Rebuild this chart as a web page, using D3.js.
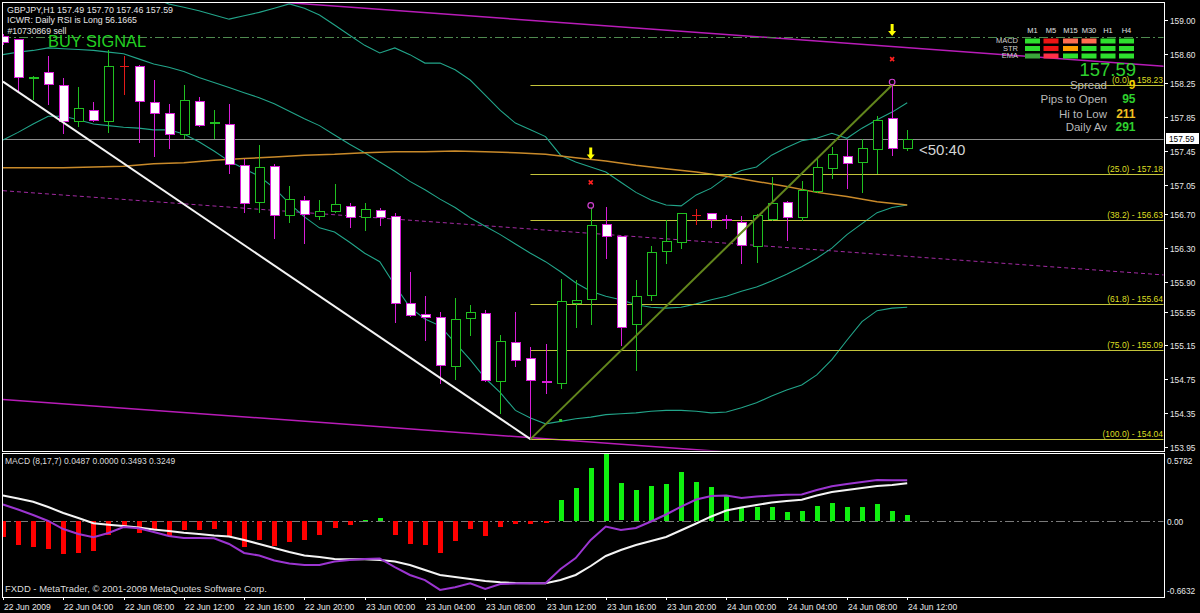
<!DOCTYPE html>
<html><head><meta charset="utf-8">
<script src="https://cdn.jsdelivr.net/npm/d3@7"></script>
<style>html,body{margin:0;padding:0;background:#000;overflow:hidden}text{font-family:"Liberation Sans",Arial,sans-serif}</style>
</head><body>
<svg id="c" width="1200" height="613"></svg>
<script>
// ---------------- DATA ----------------
const symbolTitle = "GBPJPY,H1  157.49 157.70 157.46 157.59";
const infoLine2 = "ICWR: Daily RSI is Long 56.1665";
const infoLine3 = "#10730869 sell";
const signalText = "BUY SIGNAL";
const macdTitle = "MACD (8,17,7) 0.0487 0.0000 0.3493 0.3249";
const copyright = "FXDD - MetaTrader, \u00a9 2001-2009 MetaQuotes Software Corp.";
const timerText = "<50:40";

const timeTickBars = [0,4,8,12,16,20,24,28,32,36,40,44,48,52,56,60];
const timeTickLabels = ["22 Jun 2009","22 Jun 04:00","22 Jun 08:00","22 Jun 12:00","22 Jun 16:00","22 Jun 20:00",
  "23 Jun 00:00","23 Jun 04:00","23 Jun 08:00","23 Jun 12:00","23 Jun 16:00","23 Jun 20:00",
  "24 Jun 00:00","24 Jun 04:00","24 Jun 08:00","24 Jun 12:00"];
const priceTicks = [159.00,158.60,158.25,157.85,157.45,157.05,156.70,156.30,155.90,155.55,155.15,154.75,154.35,153.95];
const macdTicks = [0.5782, 0.00, -0.6632];
const macdTickLabels = ["0.5782","0.00","-0.6632"];

const opens  = [158.81,158.77,158.32,158.39,158.23,157.80,157.94,157.81,158.45,158.46,
  158.03,157.90,157.65,158.04,157.78,157.77,157.28,156.85,157.27,156.69,
  156.87,156.68,156.74,156.80,156.67,156.75,156.68,155.65,155.52,155.48,
  154.90,155.47,155.53,154.73,155.19,155.00,154.73,154.70,155.65,155.70,
  156.58,156.44,155.40,155.74,156.27,156.37,156.69,156.71,156.64,156.61,
  156.32,156.65,156.85,156.67,156.98,157.25,157.39,157.32,157.47,157.84,157.49];
const highs  = [158.83,158.78,158.34,158.57,158.31,158.21,158.03,158.65,158.57,158.47,
  158.29,158.01,158.23,158.09,157.93,158.01,157.36,157.52,157.30,157.03,
  156.92,156.87,157.06,156.84,156.83,156.78,156.72,156.02,155.73,155.55,
  155.71,155.63,155.57,155.27,155.54,155.13,155.16,155.93,155.92,156.77,
  156.79,156.44,155.92,156.32,156.63,156.72,156.76,156.72,156.69,156.68,
  156.70,157.14,156.86,157.09,157.38,157.50,157.58,157.59,157.86,158.23,157.70];
const lows   = [158.72,158.15,158.07,158.01,157.66,157.75,157.81,157.68,158.13,157.56,
  157.39,157.48,157.60,157.75,157.60,157.19,156.73,156.73,156.42,156.61,
  156.36,156.65,156.73,156.55,156.52,156.57,155.43,155.50,155.21,154.70,
  154.75,155.27,154.73,154.35,154.90,154.04,154.58,154.64,155.37,155.40,
  156.18,155.15,154.86,155.69,156.13,156.30,156.59,156.55,156.54,156.12,
  156.14,156.63,156.40,156.63,156.97,157.13,157.01,156.97,157.19,157.40,157.46];
const closes = [158.74,158.33,158.33,158.24,157.81,157.96,157.82,158.46,158.45,158.04,
  157.90,157.65,158.05,157.76,157.79,157.30,156.84,157.26,156.69,156.88,
  156.70,156.74,156.82,156.67,156.76,156.67,155.65,155.51,155.49,154.92,
  155.46,155.54,154.74,155.20,154.98,154.74,154.72,155.67,155.69,156.57,
  156.44,155.37,155.73,156.26,156.38,156.71,156.69,156.65,156.63,156.34,
  156.69,156.84,156.67,156.99,157.26,157.41,157.31,157.48,157.82,157.49,157.59];

const bbUpper = [159.59,159.57,159.52,159.47,159.46,159.49,159.51,159.50,159.46,159.36,159.26,
  159.19,159.15,159.11,159.06,159.01,159.05,159.09,159.14,159.19,159.14,
  159.06,158.94,158.82,158.70,158.61,158.67,158.59,158.49,158.49,158.41,
  158.29,158.11,157.93,157.78,157.70,157.62,157.40,157.32,157.26,157.20,
  157.08,156.96,156.87,156.81,156.80,156.93,157.01,157.14,157.22,157.26,
  157.40,157.49,157.57,157.60,157.66,157.60,157.72,157.82,157.91,158.02];
const bbMiddle = [158.59,158.62,158.64,158.67,158.66,158.65,158.64,158.62,158.60,158.54,158.48,
  158.44,158.39,158.32,158.26,158.20,158.14,158.08,158.01,157.92,157.83,
  157.75,157.64,157.53,157.43,157.32,157.21,157.09,156.99,156.88,156.78,
  156.66,156.56,156.46,156.35,156.24,156.14,156.02,155.89,155.79,155.73,
  155.69,155.63,155.60,155.59,155.60,155.64,155.69,155.73,155.79,155.84,
  155.91,155.99,156.08,156.18,156.30,156.46,156.59,156.72,156.78,156.81];
const bbLower = [157.58,157.67,157.77,157.86,157.86,157.82,157.77,157.75,157.73,157.72,157.70,
  157.70,157.65,157.56,157.45,157.33,157.24,157.15,157.01,156.83,156.67,
  156.54,156.49,156.37,156.24,156.14,155.86,155.60,155.46,155.38,155.18,
  154.98,154.76,154.59,154.38,154.29,154.22,154.25,154.28,154.30,154.33,
  154.34,154.35,154.37,154.38,154.38,154.37,154.35,154.36,154.41,154.47,
  154.55,154.62,154.68,154.80,154.98,155.21,155.43,155.56,155.59,155.60];

const maBars   = [0,2,4,6,8,10,12,14,16,18,20,22,24,26,28,30,32,34,36,38,40,42,44,46,48,50,52,54,56,58,60];
const maValues = [157.25,157.25,157.25,157.26,157.27,157.30,157.31,157.34,157.36,157.38,157.40,157.41,157.43,157.44,157.44,157.45,
  157.44,157.43,157.41,157.37,157.33,157.28,157.24,157.20,157.15,157.09,157.03,156.96,156.91,156.85,156.81];

const channelBars = [0, 78];
const channelLow  = [154.51, 153.50];
const channelHigh = [159.45, 158.44];

const downTrendBars = [0, 35];
const downTrendPrices = [158.27, 154.04];
const upTrendBars = [35, 59];
const upTrendPrices = [154.04, 158.23];

const fibStartBar = 35;
const fibLevels = ["0.0","25.0","38.2","61.8","75.0","100.0"];
const fibPrices = [158.23,157.18,156.63,155.64,155.09,154.04];

const signalLevel = 158.80;
const bidPrice = 157.59;
const fractalBars = [39, 59];
const dotBar = 37, dotPrice = 154.26;

const macdHist = [-0.140,-0.212,-0.227,-0.240,-0.290,-0.275,-0.261,-0.119,-0.053,-0.105,
  -0.076,-0.134,-0.076,-0.076,-0.067,-0.134,-0.227,-0.168,-0.220,-0.183,
  -0.162,-0.125,-0.062,-0.038,0.004,0.025,-0.125,-0.197,-0.212,-0.275,
  -0.177,-0.070,-0.131,-0.053,-0.023,-0.023,-0.015,0.179,0.286,0.457,
  0.5782,0.324,0.266,0.300,0.318,0.422,0.338,0.294,0.222,0.121,
  0.115,0.115,0.072,0.086,0.127,0.155,0.121,0.121,0.144,0.086,0.0487];
const macdMain = [0.140,0.096,0.049,-0.003,-0.073,-0.116,-0.145,-0.108,-0.056,-0.067,
  -0.099,-0.134,-0.151,-0.151,-0.154,-0.203,-0.281,-0.303,-0.346,-0.372,
  -0.385,-0.385,-0.355,-0.342,-0.333,-0.329,-0.403,-0.472,-0.516,-0.602,
  -0.579,-0.544,-0.594,-0.550,-0.546,-0.544,-0.544,-0.420,-0.325,-0.168,
  -0.051,-0.082,-0.064,-0.008,0.053,0.122,0.183,0.214,0.218,0.196,
  0.209,0.218,0.224,0.227,0.266,0.299,0.318,0.335,0.352,0.350,0.3493];
const macdSignal = [0.218,0.192,0.164,0.118,0.066,0.023,-0.023,-0.036,-0.047,-0.060,
  -0.077,-0.090,-0.105,-0.116,-0.129,-0.138,-0.168,-0.203,-0.238,-0.273,
  -0.303,-0.316,-0.333,-0.336,-0.336,-0.342,-0.355,-0.385,-0.429,-0.472,
  -0.490,-0.507,-0.524,-0.536,-0.542,-0.544,-0.544,-0.516,-0.472,-0.394,
  -0.307,-0.255,-0.212,-0.177,-0.142,-0.084,-0.025,0.036,0.088,0.114,
  0.135,0.157,0.170,0.181,0.218,0.248,0.266,0.283,0.300,0.309,0.3249];

const tfLabels = ["M1","M5","M15","M30","H1","H4"];
const rowLabels = ["MACD","STR","EMA"];
const matrixStates = [
  ["up","down","weak","weak","up","up"],
  ["up","down","mid","up","up","up"],
  ["dim","down2","up","up","up","up"]];
const bigPrice = "157.59";
const infoLabels = ["Spread","Pips to Open","Hi to Low","Daily Av"];
const infoValues = ["9","95","211","291"];
const infoKinds  = ["yellow","green","orange","green"];

// ---------------- LAYOUT ----------------
const svg = d3.select("#c");
svg.append("rect").attr("width",1200).attr("height",613).attr("fill","#000");
const PL=2, PR=1164, PT=2, PB=451, MT=453, MB=597;

const x = d3.scaleLinear().domain([0,60]).range([3,907.2]);
const y = d3.scaleLinear().domain([153.95,159.00]).range([446.7,20]);
const ym = d3.scaleLinear().domain([-0.6632,0.5782]).range([MB,454]);

const defs = svg.append("defs");
defs.append("clipPath").attr("id","cm").append("rect").attr("x",PL+0.5).attr("y",PT+0.5).attr("width",PR-PL-1).attr("height",PB-PT-1);
defs.append("clipPath").attr("id","cd").append("rect").attr("x",PL+0.5).attr("y",MT+0.5).attr("width",PR-PL-1).attr("height",MB-MT-1);

const main = svg.append("g").attr("clip-path","url(#cm)");
const idx = d3.range(opens.length);
const sx = v => Math.round(v)+0.5;

// channel
const chLine = (vals) => main.append("line")
  .attr("x1",x(channelBars[0])).attr("y1",y(vals[0])).attr("x2",x(channelBars[1])).attr("y2",y(vals[1]));
chLine(channelLow).attr("stroke","#b81cb8").attr("stroke-width",1.5);
chLine(channelHigh).attr("stroke","#b81cb8").attr("stroke-width",1.5);
chLine([(channelLow[0]+channelHigh[0])/2,(channelLow[1]+channelHigh[1])/2]).attr("stroke","#a22aa2").attr("stroke-width",1).attr("stroke-dasharray","4,3");

// signal dash-dot line
main.append("line").attr("x1",PL).attr("x2",PR).attr("y1",sx(y(signalLevel))).attr("y2",sx(y(signalLevel)))
  .attr("stroke","#4f8a4f").attr("stroke-dasharray","9,3,2,3");

// bid line
main.append("line").attr("x1",PL).attr("x2",PR).attr("y1",sx(y(bidPrice))).attr("y2",sx(y(bidPrice)))
  .attr("stroke","#8c8c8c").attr("stroke-width",1);

// bollinger + MA
const lineGen = d3.line().x((d,i)=>x(i)).y(d=>y(d));
[bbUpper,bbMiddle,bbLower].forEach(arr=>{
  main.append("path").attr("d",lineGen(arr)).attr("fill","none").attr("stroke","#22a58a").attr("stroke-width",1.1);
});
main.append("path").attr("d",d3.line().x((d,i)=>x(maBars[i])).y(d=>y(d))(maValues))
  .attr("fill","none").attr("stroke","#c98a2a").attr("stroke-width",1.5);

// fib lines
fibPrices.forEach((p,i)=>{
  main.append("line").attr("x1",x(fibStartBar)).attr("x2",PR).attr("y1",sx(y(p))).attr("y2",sx(y(p)))
    .attr("stroke","#c4c43a").attr("stroke-width",1);
});

// candles
const cg = main.append("g").attr("shape-rendering","crispEdges");
idx.forEach(i=>{
  const o=opens[i], c=closes[i], h=highs[i], l=lows[i];
  const cx = sx(x(i));
  let col, fill;
  if (o===c) { col="#e41a1a"; }
  else if (c>o) { col="#20c020"; fill="#000"; }
  else { col="#d81ed8"; fill="#ffffff"; }
  cg.append("line").attr("x1",cx).attr("x2",cx).attr("y1",Math.round(y(h))).attr("y2",Math.round(y(l))+1).attr("stroke",col);
  if (o===c) {
    cg.append("line").attr("x1",cx-4.5).attr("x2",cx+4.5).attr("y1",sx(y(o))).attr("y2",sx(y(o))).attr("stroke",col);
  } else {
    const top=Math.round(y(Math.max(o,c))), bot=Math.round(y(Math.min(o,c)));
    cg.append("rect").attr("x",cx-4.5).attr("y",top+0.5).attr("width",9).attr("height",Math.max(1,bot-top))
      .attr("fill",fill).attr("stroke",col);
  }
});

// trendlines
main.append("line").attr("x1",x(downTrendBars[0])).attr("y1",y(downTrendPrices[0])).attr("x2",x(downTrendBars[1])).attr("y2",y(downTrendPrices[1]))
  .attr("stroke","#f4f4f4").attr("stroke-width",2);
main.append("line").attr("x1",x(upTrendBars[0])).attr("y1",y(upTrendPrices[0])).attr("x2",x(upTrendBars[1])).attr("y2",y(upTrendPrices[1]))
  .attr("stroke","#62861c").attr("stroke-width",2);

// fib labels
fibPrices.forEach((p,i)=>{
  main.append("text").attr("x",PR-1).attr("y",y(p)-2).attr("text-anchor","end").attr("font-size",8.5)
    .attr("fill","#dede22").text(`(${fibLevels[i]}) - ${p.toFixed(2)}`);
});

// fractal markers
fractalBars.forEach(b=>{
  const cx=x(b), hy=y(highs[b]);
  main.append("circle").attr("cx",cx).attr("cy",hy-3).attr("r",2.8).attr("fill","none").attr("stroke","#d040d0").attr("stroke-width",1.2);
  const xy = hy-26;
  main.append("path").attr("d",`M${cx-2},${xy-2}L${cx+2},${xy+2}M${cx+2},${xy-2}L${cx-2},${xy+2}`).attr("stroke","#ff2020").attr("stroke-width",1.6);
  const ay = hy-55;
  main.append("path").attr("d",`M${cx-1.5},${ay-6}H${cx+1.5}V${ay+1}H${cx+4}L${cx},${ay+6}L${cx-4},${ay+1}H${cx-1.5}Z`).attr("fill","#ffff00");
});
main.append("rect").attr("x",x(dotBar)-1.5).attr("y",y(dotPrice)-1.5).attr("width",3).attr("height",3).attr("fill","#30c030");

// texts top-left
const tl = svg.append("g").attr("fill","#e4e4e4");
tl.append("text").attr("x",7).attr("y",13).attr("font-size",8.7).attr("textLength",166).attr("lengthAdjust","spacingAndGlyphs").text(symbolTitle);
tl.append("text").attr("x",7).attr("y",22.5).attr("font-size",8.7).attr("textLength",130).attr("lengthAdjust","spacingAndGlyphs").text(infoLine2);
tl.append("text").attr("x",7.5).attr("y",34).attr("font-size",8.7).text(infoLine3);
svg.append("text").attr("x",48).attr("y",46.5).attr("font-size",17).attr("fill","#22d022").attr("textLength",98).attr("lengthAdjust","spacingAndGlyphs").text(signalText);
svg.append("text").attr("x",919).attr("y",155).attr("font-size",15).attr("fill","#d4d4d4").text(timerText);

// matrix panel
const colX = [1032.5,1051,1070.5,1089,1108,1126.5];
const rowY = [38.5,46,53.5];
const stateColor = {up:"#2ee02e",down:"#ee1414",down2:"#ff3048",weak:"#ff6e50",mid:"#ffa000",dim:"#3aa83a"};
tfLabels.forEach((t,j)=>svg.append("text").attr("x",colX[j]).attr("y",33).attr("text-anchor","middle").attr("font-size",7.5).attr("fill","#e0e0e0").text(t));
rowLabels.forEach((r,k)=>svg.append("text").attr("x",1018).attr("y",rowY[k]+4.8).attr("text-anchor","end").attr("font-size",7.5).attr("fill","#d0d0d0").text(r));
matrixStates.forEach((row,k)=>row.forEach((s,j)=>{
  svg.append("rect").attr("x",colX[j]-7.5).attr("y",rowY[k]).attr("width",15).attr("height",5).attr("fill",stateColor[s]);
}));
svg.append("text").attr("x",1136).attr("y",76).attr("text-anchor","end").attr("font-size",18.5).attr("fill","#2ed02e").text(bigPrice);
const valCol = {yellow:"#f0d000",green:"#2ed02e",orange:"#f0c020"};
const infoY = [88.5,102.5,117.5,131];
infoLabels.forEach((t,k)=>{
  svg.append("text").attr("x",1107).attr("y",infoY[k]).attr("text-anchor","end").attr("font-size",11.5).attr("fill","#b8b8b8").text(t);
  svg.append("text").attr("x",1135.5).attr("y",infoY[k]).attr("text-anchor","end").attr("font-size",12).attr("font-weight","bold").attr("fill",valCol[infoKinds[k]]).text(infoValues[k]);
});

// MACD panel
const mg = svg.append("g").attr("clip-path","url(#cd)");
mg.append("line").attr("x1",PL).attr("x2",PR).attr("y1",sx(ym(0))).attr("y2",sx(ym(0))).attr("stroke","#7a7a7a").attr("stroke-dasharray","9,3,2,3");
const hg = mg.append("g").attr("shape-rendering","crispEdges");
macdHist.forEach((v,i)=>{
  const y0=ym(0), y1=ym(v);
  hg.append("rect").attr("x",Math.round(x(i))-2).attr("width",5)
    .attr("y",Math.round(Math.min(y0,y1))).attr("height",Math.max(1,Math.round(Math.abs(y1-y0))))
    .attr("fill", v>=0 ? "#10f010" : "#ff0000");
});
const mline = d3.line().x((d,i)=>x(i)).y(d=>ym(d));
mg.append("path").attr("d",mline(macdSignal)).attr("fill","none").attr("stroke","#f4f4f4").attr("stroke-width",2);
mg.append("path").attr("d",mline(macdMain)).attr("fill","none").attr("stroke","#9b35d0").attr("stroke-width",2);
svg.append("text").attr("x",5).attr("y",464).attr("font-size",8.5).attr("fill","#dcdcdc").text(macdTitle);
svg.append("text").attr("x",5).attr("y",591.5).attr("font-size",8.7).attr("fill","#dcdcdc").attr("textLength",262).attr("lengthAdjust","spacingAndGlyphs").text(copyright);

// borders
const bg = svg.append("g").attr("fill","none").attr("stroke","#ffffff").attr("shape-rendering","crispEdges");
bg.append("rect").attr("x",PL+0.5).attr("y",PT+0.5).attr("width",PR-PL).attr("height",PB-PT);
bg.append("rect").attr("x",PL+0.5).attr("y",MT+0.5).attr("width",PR-PL).attr("height",MB-MT);

// price axis
const ax = svg.append("g");
priceTicks.forEach(p=>{
  const yy=Math.round(y(p))+0.5;
  ax.append("line").attr("x1",PR+1).attr("x2",PR+4).attr("y1",yy).attr("y2",yy).attr("stroke","#fff");
  ax.append("text").attr("x",PR+6).attr("y",yy+3).attr("font-size",8.3).attr("fill","#e8e8e8").text(p.toFixed(2));
});
// bid label
const by = y(bidPrice);
ax.append("rect").attr("x",PR+2.5).attr("y",Math.round(by)-5.5).attr("width",32).attr("height",10).attr("fill","#fff").attr("stroke","#fff");
ax.append("text").attr("x",PR+5).attr("y",Math.round(by)+3).attr("font-size",8.3).attr("fill","#000").text(bidPrice.toFixed(2));
// macd axis
const macdLabelY = [464, 524.5, 594];
macdTicks.forEach((v,k)=>{
  ax.append("text").attr("x",PR+3).attr("y",macdLabelY[k]).attr("font-size",8.3).attr("fill","#e8e8e8").text(macdTickLabels[k]);
});
// time axis
timeTickBars.forEach((b,k)=>{
  const xx = sx(x(b));
  ax.append("line").attr("x1",xx).attr("x2",xx).attr("y1",MB).attr("y2",MB+3).attr("stroke","#fff");
  ax.append("text").attr("x",xx+0.5).attr("y",609.5).attr("font-size",8.5).attr("fill","#e8e8e8").text(timeTickLabels[k]);
});
</script>
</body></html>
